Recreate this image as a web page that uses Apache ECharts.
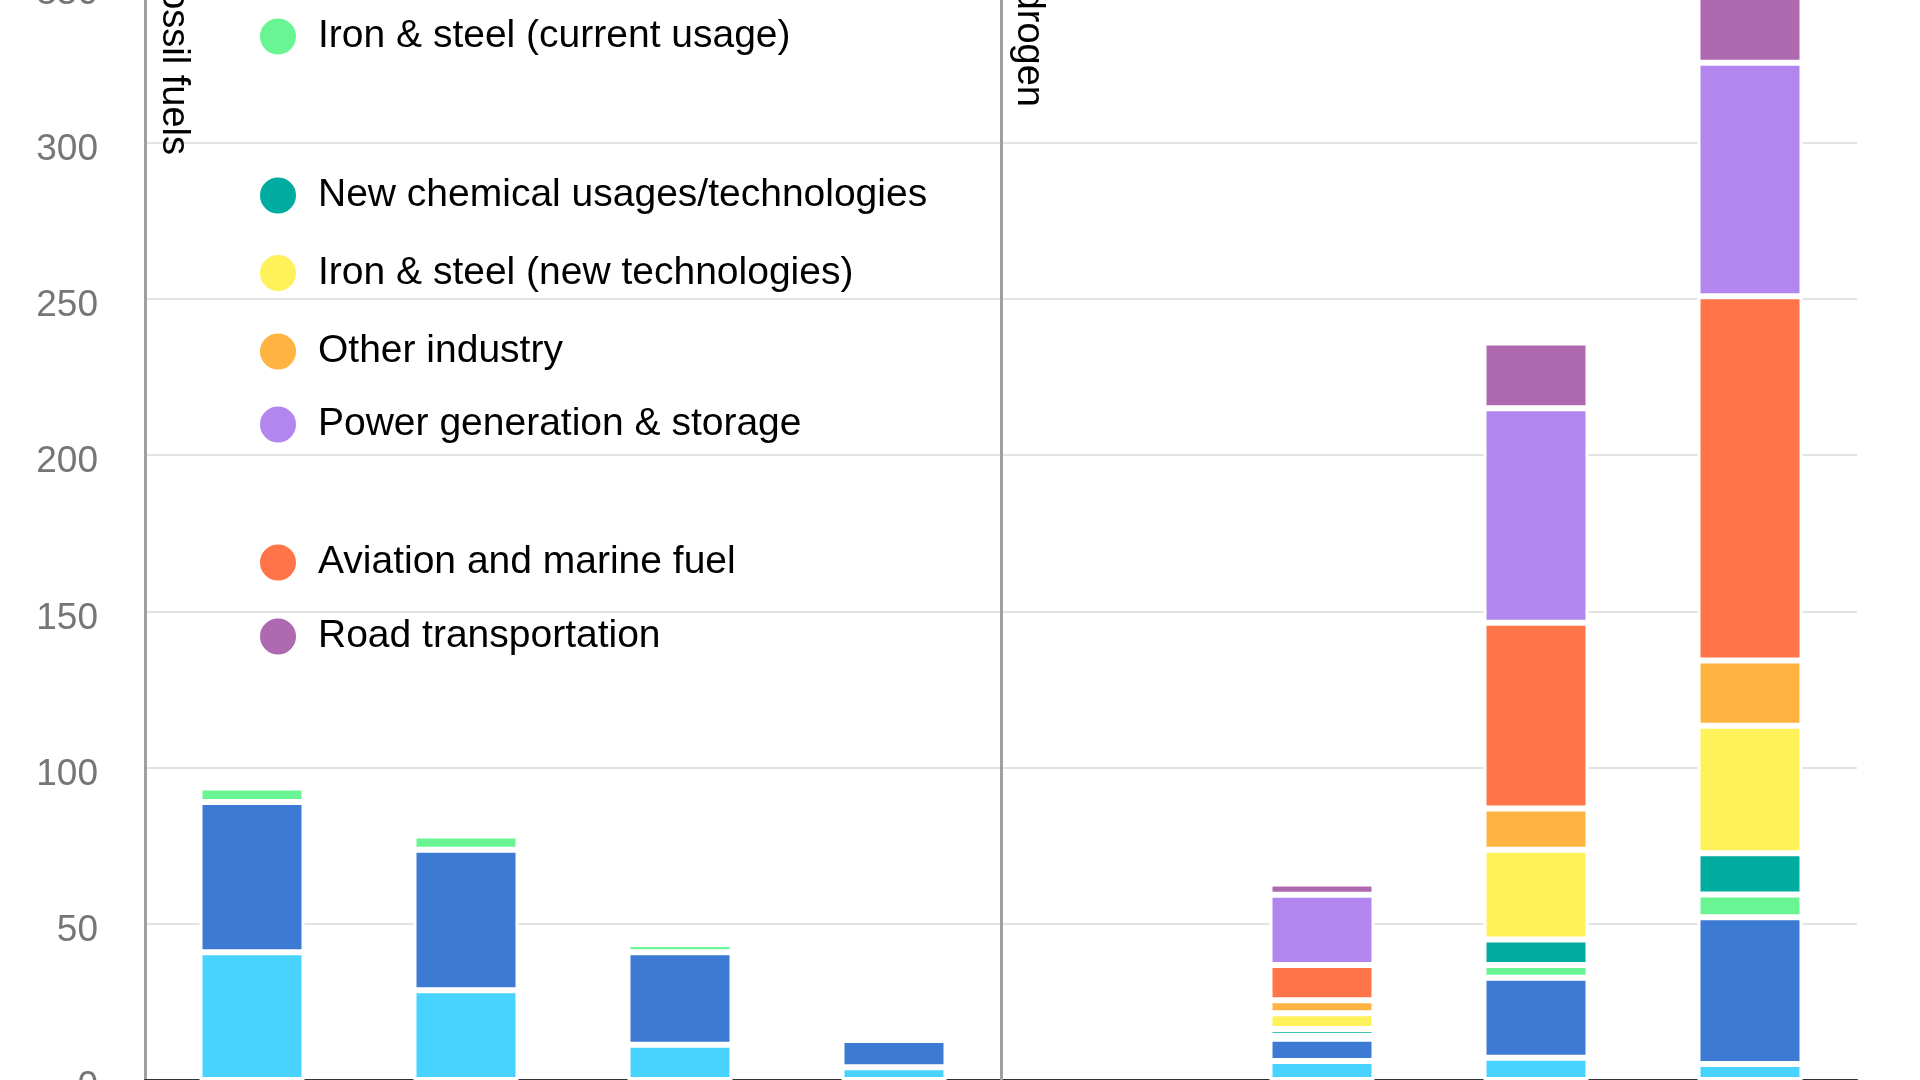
<!DOCTYPE html>
<html>
<head>
<meta charset="utf-8">
<script src="https://cdn.jsdelivr.net/npm/echarts@6/dist/echarts.min.js"></script>
<style>
  html, body { margin: 0; padding: 0; width: 1920px; height: 1080px; overflow: hidden; background: #ffffff; }
  #chart { position: absolute; left: 0; top: -300px; width: 1920px; height: 1500px; }
</style>
</head>
<body>
<div id="chart"></div>
<script>
// ---- data ----
const categories = ['Fossil 2022', 'Fossil 2030', 'Fossil 2040', 'Fossil 2050',
                    'Hydrogen 2022', 'Hydrogen 2030', 'Hydrogen 2040', 'Hydrogen 2050'];
const refining      = [40.9, 28.7, 11.3, 4.1, null, 6.1, 7.1, 5.1];
const chemicals     = [48.1, 45.0, 29.6, 8.7, null, 7.1, 25.6, 47.0];
const steelCurrent  = [4.6, 4.6, 2.6, null, null, 1.0, 4.1, 7.3];
const newChemical   = [null, null, null, null, null, 2.1, 8.2, 13.2];
const steelNew      = [null, null, null, null, null, 5.1, 28.7, 40.8];
const otherIndustry = [null, null, null, null, null, 4.1, 13.2, 20.9];
const aviation      = [null, null, null, null, null, 11.3, 59.5, 116.6];
const power         = [null, null, null, null, null, 22.5, 68.6, 74.7];
const road          = [null, null, null, null, null, 3.6, 21.1, 36.0];
const yMin = 0, yMax = 400, yStep = 50;
const sectionLabels = ['Fossil fuels', 'Hydrogen'];

const seriesDefs = [
  { name: 'Refining', data: refining, color: '#47D3FE' },
  { name: 'Ammonia & methanol', data: chemicals, color: '#3D7AD3' },
  { name: 'Iron & steel (current usage)', data: steelCurrent, color: '#69F593' },
  { name: 'New chemical usages/technologies', data: newChemical, color: '#00AC9F' },
  { name: 'Iron & steel (new technologies)', data: steelNew, color: '#FFF15A' },
  { name: 'Other industry', data: otherIndustry, color: '#FFB340' },
  { name: 'Aviation and marine fuel', data: aviation, color: '#FF7449' },
  { name: 'Power generation & storage', data: power, color: '#B286EE' },
  { name: 'Road transportation', data: road, color: '#AE69B0' }
];
const legendNames = ['Iron & steel (current usage)', 'New chemical usages/technologies',
  'Iron & steel (new technologies)', 'Other industry', 'Power generation & storage',
  'Aviation and marine fuel', 'Road transportation'];
const legendCenters = [35.5, 194.5, 272, 350.5, 423.5, 561.5, 635.5];

const FONT = "'Liberation Sans', Arial, sans-serif";
const ICON = 38;
const chart = echarts.init(document.getElementById('chart'), null, { renderer: 'canvas' });

const series = seriesDefs.map(s => ({
  name: s.name,
  type: 'bar',
  stack: 'total',
  data: s.data,
  barWidth: 105,
  itemStyle: { color: s.color, borderColor: '#ffffff', borderWidth: 3 },
  emphasis: { disabled: true },
  silent: true
}));
series.push({
  type: 'line',
  xAxisIndex: 1,
  data: [],
  silent: true,
  markLine: {
    silent: true,
    symbol: ['none', 'none'],
    label: { show: false },
    lineStyle: { color: '#a0a0a0', width: 3, type: 'solid' },
    data: [{ xAxis: 4 }]
  }
});

chart.setOption({
  animation: false,
  backgroundColor: '#ffffff',
  grid: { left: 145, right: 63, top: 130.4, bottom: 120, containLabel: false, outerBoundsMode: 'none' },
  legend: legendNames.map((n, i) => ({
    data: [n],
    left: 277 - ICON / 2,
    top: legendCenters[i] + 300 - ICON / 2,
    padding: 0,
    icon: 'circle',
    itemWidth: ICON,
    itemHeight: ICON,
    selectedMode: false,
    textStyle: { fontSize: 39, color: '#000000', fontFamily: FONT, padding: [0, 0, 0, 16], lineHeight: ICON }
  })),
  xAxis: [
    {
      type: 'category',
      data: categories,
      boundaryGap: true,
      axisLine: { show: true, lineStyle: { color: '#333333', width: 2 } },
      axisTick: { show: false },
      axisLabel: { show: false },
      splitLine: { show: false }
    },
    {
      type: 'value',
      min: 0, max: 8,
      show: false
    }
  ],
  yAxis: {
    type: 'value',
    min: yMin, max: yMax, interval: yStep,
    axisLine: { show: true, lineStyle: { color: '#a0a0a0', width: 3 } },
    axisTick: { show: false },
    axisLabel: {
      margin: 47,
      formatter: '{v|{value}}',
      rich: { v: { fontSize: 37, color: '#767676', fontFamily: FONT, padding: [14, 0, 0, 0] } }
    },
    splitLine: { show: true, lineStyle: { color: '#e3e3e3', width: 2 } }
  },
  series: series
});

// section labels, rotated, placed relative to the axis positions
const xStart = chart.convertToPixel({ xAxisIndex: 1 }, 0);
const xSep = chart.convertToPixel({ xAxisIndex: 1 }, 4);
chart.setOption({
  graphic: [
    {
      type: 'text', x: xStart + 28, y: 455, rotation: -Math.PI / 2, silent: true,
      style: { text: sectionLabels[0], fontSize: 38, fontFamily: FONT, fill: '#000000', align: 'right', verticalAlign: 'middle' }
    },
    {
      type: 'text', x: xSep + 27, y: 407, rotation: -Math.PI / 2, silent: true,
      style: { text: sectionLabels[1], fontSize: 38, fontFamily: FONT, fill: '#000000', align: 'right', verticalAlign: 'middle' }
    }
  ]
});
</script>
</body>
</html>
